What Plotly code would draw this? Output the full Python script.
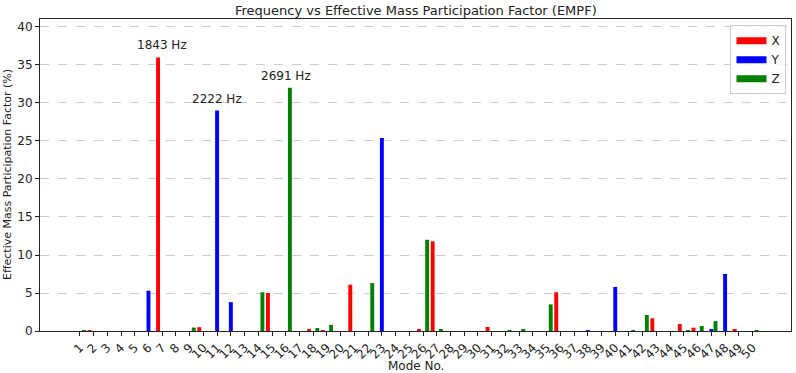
import plotly.graph_objects as go

modes = list(range(1, 51))

x_nonzero = {2: 0.13, 7: 36.0, 10: 0.5, 15: 5.0, 18: 0.26, 19: 0.13, 21: 6.1, 26: 0.26,
             27: 11.8, 31: 0.53, 36: 5.1, 43: 1.67, 45: 0.92, 46: 0.44, 49: 0.26}
y_nonzero = {6: 5.3, 11: 29.0, 12: 3.8, 23: 25.4, 38: 0.1, 40: 5.8, 47: 0.26, 48: 7.5}
z_nonzero = {1: 0.13, 9: 0.45, 14: 5.1, 16: 32.0, 18: 0.4, 19: 0.8, 22: 6.3, 26: 12.0,
             27: 0.2, 32: 0.13, 33: 0.26, 35: 3.5, 41: 0.1, 42: 2.1, 45: 0.05, 46: 0.66,
             47: 1.3, 50: 0.05}

empf_x = [x_nonzero.get(m, 0.0) for m in modes]
empf_y = [y_nonzero.get(m, 0.0) for m in modes]
empf_z = [z_nonzero.get(m, 0.0) for m in modes]

peak_modes = [7, 11, 16]
peak_freqs = ["1843 Hz", "2222 Hz", "2691 Hz"]

font = "DejaVu Sans"
fig = go.Figure()
for name, vals, col in [("X", empf_x, "#ff0000"), ("Y", empf_y, "#0000ff"), ("Z", empf_z, "#008000")]:
    fig.add_trace(go.Bar(x=modes, y=vals, name=name, marker_color=col, marker_line_width=0,
                         showlegend=False))
    fig.add_trace(go.Scatter(x=[None], y=[None], mode="lines", name=name,
                             line=dict(color=col, width=7)))

for m, f in zip(peak_modes, peak_freqs):
    top = max(empf_x[m - 1], empf_y[m - 1], empf_z[m - 1])
    fig.add_annotation(x=m, y=top, text=f, showarrow=False, yanchor="middle", yshift=12,
                       font=dict(family=font, size=12, color="#222222"))

# titles placed as annotations for exact positioning
fig.add_annotation(xref="paper", yref="paper", x=0.5, y=1, yshift=9, yanchor="middle",
                   text="Frequency vs Effective Mass Participation Factor (EMPF)",
                   showarrow=False, font=dict(family=font, size=13, color="#222222"))
fig.add_annotation(xref="paper", yref="paper", x=0.5, y=0, yshift=-35, yanchor="middle",
                   text="Mode No.", showarrow=False,
                   font=dict(family=font, size=12, color="#222222"))
fig.add_annotation(xref="paper", yref="paper", x=0, xshift=-33, y=0.5, xanchor="center",
                   yanchor="middle", textangle=-90,
                   text="Effective Mass Participation Factor (%)", showarrow=False,
                   font=dict(family=font, size=11, color="#222222"))

fig.update_layout(
    width=796, height=373,
    margin=dict(l=40, r=5, t=19, b=42),
    paper_bgcolor="white", plot_bgcolor="white",
    barmode="group", bargap=0.1, bargroupgap=0.05,
    font=dict(family=font, size=11, color="#222222"),
    legend=dict(x=0.994, y=0.98, xanchor="right", yanchor="top",
                bordercolor="#cccccc", borderwidth=1, bgcolor="rgba(255,255,255,0.8)",
                font=dict(family=font, size=12), itemwidth=30, tracegroupgap=0),
    xaxis=dict(range=[-1.9, 52.8], tickvals=modes, ticktext=[str(m) for m in modes],
               tickangle=-45, ticks="outside", ticklen=4, tickcolor="#222222",
               showline=True, linecolor="#222222", linewidth=1, mirror=True,
               showgrid=False, zeroline=False, automargin=False,
               tickfont=dict(family=font, size=12)),
    yaxis=dict(range=[0, 41.05], tickvals=[0, 5, 10, 15, 20, 25, 30, 35, 40],
               ticks="outside", ticklen=4, tickcolor="#222222",
               showline=True, linecolor="#222222", linewidth=1, mirror=True,
               showgrid=True, gridcolor="#cccccc", griddash="dash", gridwidth=1,
               zeroline=False, automargin=False,
               tickfont=dict(family=font, size=12)),
)

fig.write_html("out.html", config={"displayModeBar": False},
               post_script="document.body.style.margin='0';")
